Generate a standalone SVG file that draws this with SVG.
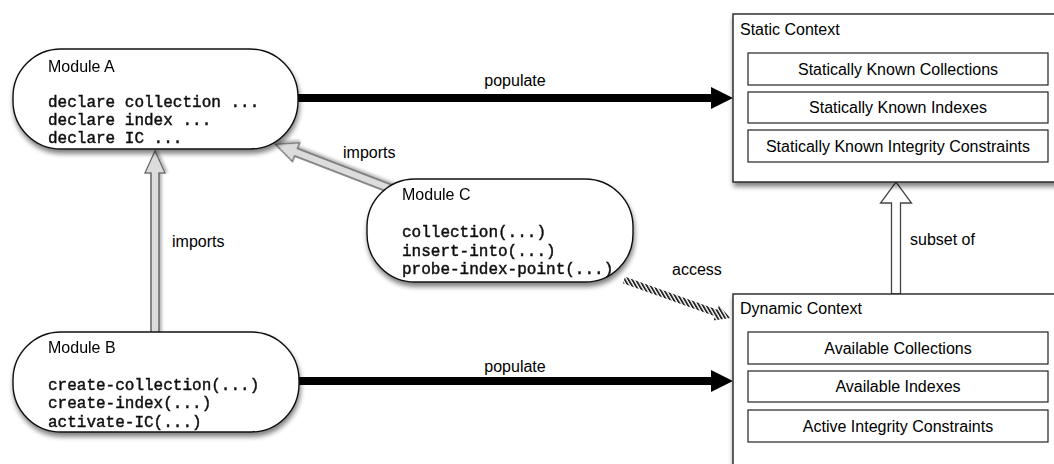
<svg xmlns="http://www.w3.org/2000/svg" width="1054" height="464" viewBox="0 0 1054 464">
  <style>
    .sans { font-family: "Liberation Sans", Arial, sans-serif; font-size: 16px; fill: #000; }
    .mid { text-anchor: middle; }
    .code { font-family: "Liberation Mono", "Courier New", monospace; font-size: 16px; fill: #111; stroke: #111; stroke-width: 0.45; }
    .module { fill: #fff; stroke: #111; stroke-width: 1.4; }
    .context { fill: #fff; stroke: #222; stroke-width: 1.4; }
    .slot { fill: #fff; stroke: #222; stroke-width: 1.2; }
    .import { fill: #dcdcdc; stroke: #666; stroke-width: 1.3; }
    .subset { fill: #fff; stroke: #444; stroke-width: 1.3; }
    .flow { stroke: #000; stroke-width: 8; }
  </style>
  <defs>
    <filter id="shadow" x="-10%" y="-10%" width="130%" height="140%">
      <feGaussianBlur in="SourceAlpha" stdDeviation="2.5"/>
      <feOffset dx="1" dy="4" result="blur"/>
      <feComponentTransfer><feFuncA type="linear" slope="0.5"/></feComponentTransfer>
      <feMerge><feMergeNode/><feMergeNode in="SourceGraphic"/></feMerge>
    </filter>
    <filter id="softshadow" x="-20%" y="-20%" width="140%" height="160%">
      <feGaussianBlur in="SourceAlpha" stdDeviation="1.5"/>
      <feOffset dx="1" dy="2"/>
      <feComponentTransfer><feFuncA type="linear" slope="0.3"/></feComponentTransfer>
      <feMerge><feMergeNode/><feMergeNode in="SourceGraphic"/></feMerge>
    </filter>
    <pattern id="hatch" width="3.2" height="3.2" patternUnits="userSpaceOnUse" patternTransform="rotate(-50)">
      <rect x="0" y="0" width="1.8" height="3.2" fill="#222"/>
    </pattern>
  </defs>

  <!-- connectors -->
  <g id="connectors">
    <!-- populate: Module A -> Static Context -->
    <line class="flow" x1="296" y1="98" x2="714" y2="98"/>
    <polygon points="711,87 733,98 711,109" fill="#000"/>
    <text class="sans mid" x="515" y="86">populate</text>

    <!-- populate: Module B -> Dynamic Context -->
    <line class="flow" x1="296" y1="381" x2="714" y2="381"/>
    <polygon points="711,370 733,381 711,392" fill="#000"/>
    <text class="sans mid" x="515" y="372">populate</text>

    <!-- imports: Module B -> Module A -->
    <polygon class="import" filter="url(#softshadow)" transform="translate(155,333) rotate(-90)"
      points="0,-4 160,-4 160,-10 182,0 160,10 160,4 0,4"/>
    <text class="sans" x="172" y="247">imports</text>

    <!-- imports: Module C -> Module A -->
    <polygon class="import" filter="url(#softshadow)" transform="translate(394,190) rotate(-158.9)"
      points="0,-4 105,-4 105,-10 127,0 105,10 105,4 0,4"/>
    <text class="sans" x="343" y="158">imports</text>

    <!-- subset of: Dynamic Context -> Static Context -->
    <polygon class="subset" transform="translate(896,294) rotate(-90)"
      points="0,-4.5 91,-4.5 91,-15.5 112,0 91,15.5 91,4.5 0,4.5"/>
    <text class="sans" x="910" y="245">subset of</text>

    <!-- access: Module C -> Dynamic Context (hatched) -->
    <polygon transform="translate(624,280) rotate(19.7)" fill="url(#hatch)"
      points="0,-3.5 98,-3.5 98,-8 113,0 98,8 98,3.5 0,3.5"/>
    <text class="sans" x="672" y="275">access</text>
  </g>

  <!-- Module A -->
  <g id="module-a" filter="url(#shadow)">
    <rect class="module" x="13" y="49" width="285" height="100" rx="48" ry="48"/>
    <text class="sans" x="48" y="72">Module A</text>
    <text class="code" x="48" y="107">declare collection ...</text>
    <text class="code" x="48" y="125">declare index ...</text>
    <text class="code" x="48" y="143">declare IC ...</text>
  </g>

  <!-- Module B -->
  <g id="module-b" filter="url(#shadow)">
    <rect class="module" x="13" y="332" width="286" height="100" rx="48" ry="48"/>
    <text class="sans" x="48" y="353">Module B</text>
    <text class="code" x="48" y="390">create-collection(...)</text>
    <text class="code" x="48" y="408">create-index(...)</text>
    <text class="code" x="48" y="427">activate-IC(...)</text>
  </g>

  <!-- Module C -->
  <g id="module-c" filter="url(#shadow)">
    <rect class="module" x="367" y="179" width="266" height="103" rx="48" ry="48"/>
    <text class="sans" x="402" y="200">Module C</text>
    <text class="code" x="402" y="237">collection(...)</text>
    <text class="code" x="402" y="256">insert-into(...)</text>
    <text class="code" x="402" y="274">probe-index-point(...)</text>
  </g>

  <!-- Static Context -->
  <g id="static-context">
    <rect class="context" filter="url(#shadow)" x="733" y="14" width="330" height="168"/>
    <text class="sans" x="740" y="35">Static Context</text>
    <rect class="slot" x="748" y="53" width="300" height="32"/>
    <text class="sans mid" x="898" y="75">Statically Known Collections</text>
    <rect class="slot" x="748" y="92" width="300" height="31"/>
    <text class="sans mid" x="898" y="113">Statically Known Indexes</text>
    <rect class="slot" x="748" y="130" width="300" height="32"/>
    <text class="sans mid" x="898" y="152">Statically Known Integrity Constraints</text>
  </g>

  <!-- Dynamic Context -->
  <g id="dynamic-context">
    <rect class="context" filter="url(#shadow)" x="733" y="294" width="330" height="190"/>
    <text class="sans" x="740" y="314">Dynamic Context</text>
    <rect class="slot" x="748" y="332" width="300" height="32"/>
    <text class="sans mid" x="898" y="354">Available Collections</text>
    <rect class="slot" x="748" y="371" width="300" height="31"/>
    <text class="sans mid" x="898" y="392">Available Indexes</text>
    <rect class="slot" x="748" y="410" width="300" height="32"/>
    <text class="sans mid" x="898" y="432">Active Integrity Constraints</text>
  </g>
</svg>
